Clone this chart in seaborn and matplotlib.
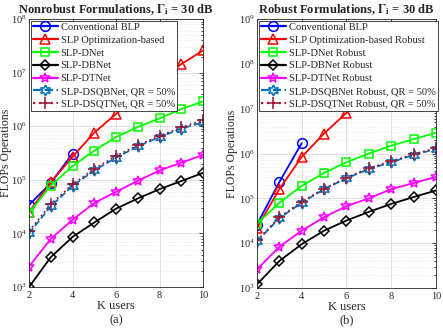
import numpy as np
import pandas as pd
import seaborn as sns
import matplotlib.pyplot as plt
from matplotlib.ticker import LogLocator, NullFormatter

# K users
k_users = [2, 3, 4, 5, 6, 7, 8, 9, 10]
k_blp = [2, 3, 4]

# Nonrobust formulations (a)
nr_blp = [3.4e4, 8.7e4, 3.1e5]
nr_opt = [2.5e4, 9.0e4, 2.7e5, 7.6e5, 1.7e6, 3.6e6, 7.3e6, 1.45e7, 2.6e7]
nr_dnet = [2.4e4, 7.8e4, 1.8e5, 3.5e5, 6.3e5, 9.7e5, 1.4e6, 2.1e6, 2.9e6]
nr_dbnet = [1.0e3, 3.6e3, 8.6e3, 1.6e4, 2.9e4, 4.5e4, 6.7e4, 9.5e4, 1.35e5]
nr_dtnet = [2.4e3, 7.9e3, 1.8e4, 3.7e4, 6.0e4, 9.6e4, 1.5e5, 2.1e5, 2.9e5]
nr_dsqb = [1.0e4, 3.2e4, 7.7e4, 1.5e5, 2.6e5, 4.2e5, 6.3e5, 9.0e5, 1.2e6]
nr_dsqt = [1.1e4, 3.5e4, 8.2e4, 1.6e5, 2.8e5, 4.4e5, 6.6e5, 9.5e5, 1.3e6]

# Robust formulations (b)
rb_blp = [2.6e4, 2.3e5, 1.7e6]
rb_opt = [2.2e4, 1.6e5, 8.4e5, 2.8e6, 8.1e6, 1.7e7, 3.6e7, 7.6e7, 1.6e8]
rb_dnet = [2.7e4, 8.0e4, 1.9e5, 3.7e5, 6.4e5, 1.0e6, 1.5e6, 2.1e6, 2.9e6]
rb_dbnet = [1.2e3, 4.0e3, 9.5e3, 1.9e4, 3.2e4, 5.0e4, 7.5e4, 1.07e5, 1.5e5]
rb_dtnet = [2.6e3, 8.3e3, 1.9e4, 3.8e4, 6.7e4, 1.0e5, 1.6e5, 2.2e5, 3.0e5]
rb_dsqb = [1.1e4, 3.6e4, 8.0e4, 1.6e5, 2.8e5, 4.5e5, 6.4e5, 9.3e5, 1.26e6]
rb_dsqt = [1.15e4, 3.8e4, 8.4e4, 1.65e5, 2.9e5, 4.7e5, 6.7e5, 9.7e5, 1.32e6]

labels_a = ["Conventional BLP", "SLP Optimization-based", "SLP-DNet", "SLP-DBNet",
            "SLP-DTNet", "SLP-DSQBNet, QR = 50%", "SLP-DSQTNet, QR = 50%"]
labels_b = ["Conventional BLP", "SLP Optimization-based Robust", "SLP-DNet Robust",
            "SLP-DBNet Robust", "SLP-DTNet Robust", "SLP-DSQBNet Robust, QR = 50%",
            "SLP-DSQTNet Robust, QR = 50%"]

colors = ["#0000ff", "#ff0000", "#00ff00", "#000000", "#ff00ff", "#0072bd", "#a2142f"]
markers = ["o", "^", "s", "D", "*", (6, 1, 0), "+"]
msizes = [7, 7, 6, 5.5, 7, 8, 8]
lstyles = ["-", "-", "-", "-", "-", "--", ":"]

sns.set_style("white")
plt.rcParams['font.family'] = ['Liberation Serif', 'DejaVu Serif']
plt.rcParams['mathtext.fontset'] = 'stix'


def draw_panel(ax, series, labels, title, ymax, ylab_x):
    for i, (xs, ys) in enumerate(series):
        df = pd.DataFrame({"K": xs, "FLOPs": ys})
        sns.lineplot(data=df, x="K", y="FLOPs", ax=ax, color=colors[i],
                     linestyle=lstyles[i], linewidth=1.3, marker=markers[i],
                     markersize=msizes[i], markerfacecolor="none",
                     markeredgecolor=colors[i], markeredgewidth=1.1,
                     label=labels[i])
    ax.set_yscale("log")
    ax.set_xlim(2, 10)
    ax.set_ylim(1e3, ymax)
    ax.set_xticks([2, 4, 6, 8, 10])
    ax.yaxis.set_major_locator(LogLocator(base=10, numticks=12))
    ax.yaxis.set_minor_locator(LogLocator(base=10, subs=np.arange(2, 10), numticks=12))
    ax.yaxis.set_minor_formatter(NullFormatter())
    ax.grid(True, which="major", color="#dcdcdc", linewidth=0.6)
    ax.grid(True, which="minor", axis="y", color="#e2e2e2", linewidth=0.5, linestyle=":")
    ax.set_axisbelow(True)
    ax.tick_params(direction="in", which="both", top=True, right=True, labelsize=7.5,
                   length=3, width=0.6, colors="#262626")
    ax.tick_params(which="minor", length=1.5)
    ax.tick_params(axis="x", pad=3)
    ax.tick_params(axis="y", pad=1.5)
    for sp in ax.spines.values():
        sp.set_color("#262626")
        sp.set_linewidth(0.6)
    ax.set_xlabel("K users", fontsize=9, labelpad=0)
    ax.set_ylabel("FLOPs Operations", fontsize=8.5)
    ax.yaxis.set_label_coords(ylab_x, 0.5)
    ax.set_title(title, fontsize=9, fontweight="bold", pad=4)
    leg = ax.legend(loc="upper left", fontsize=7.6, frameon=True, fancybox=False,
                    edgecolor="#262626", framealpha=1, borderpad=0.2, labelspacing=0.32,
                    handlelength=2.4, handletextpad=0.25, borderaxespad=0.15)
    leg.get_frame().set_linewidth(0.6)
    for h in leg.get_lines():
        h.set_linewidth(1.6)


fig = plt.figure(figsize=(4.43, 3.32), dpi=100)
ax1 = fig.add_axes([0.0655, 0.1355, 0.393, 0.807])
ax2 = fig.add_axes([0.580, 0.1325, 0.404, 0.810])

series_a = [(k_blp, nr_blp), (k_users, nr_opt), (k_users, nr_dnet), (k_users, nr_dbnet),
            (k_users, nr_dtnet), (k_users, nr_dsqb), (k_users, nr_dsqt)]
series_b = [(k_blp, rb_blp), (k_users, rb_opt), (k_users, rb_dnet), (k_users, rb_dbnet),
            (k_users, rb_dtnet), (k_users, rb_dsqb), (k_users, rb_dsqt)]

draw_panel(ax1, series_a, labels_a, r"Nonrobust Formulations, $\mathbf{\Gamma_i}$ = 30 dB", 1e8, -0.10)
draw_panel(ax2, series_b, labels_b, r"Robust Formulations, $\mathbf{\Gamma_i}$ = 30 dB", 1e9, -0.105)

fig.text(0.0655 + 0.393 / 2, 1 - 320 / 332, "(a)", ha="center", va="center", fontsize=9)
fig.text(0.580 + 0.404 / 2, 1 - 320 / 332, "(b)", ha="center", va="center", fontsize=9)

plt.savefig("out.png", dpi=100)
plt.close()
